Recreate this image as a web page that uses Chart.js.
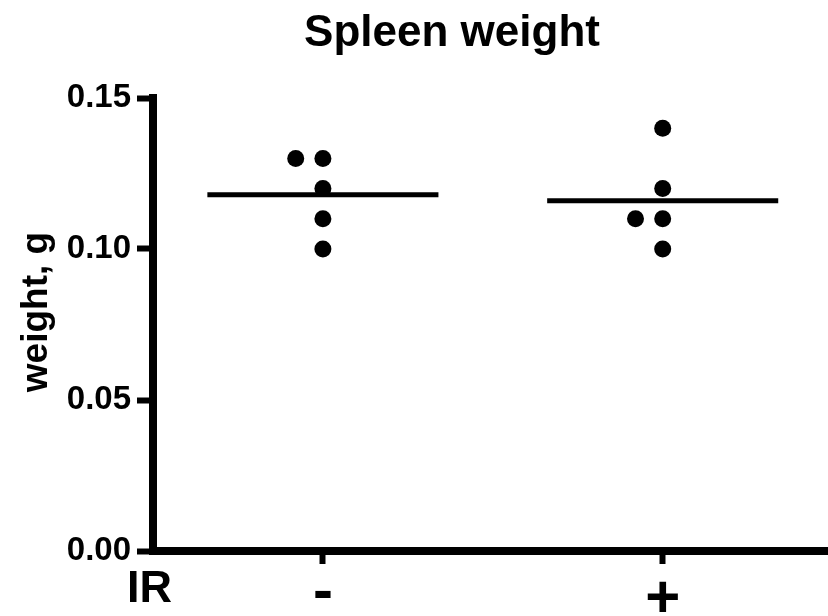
<!DOCTYPE html>
<html>
<head>
<meta charset="utf-8">
<script src="https://cdn.jsdelivr.net/npm/chart.js@4.4.0/dist/chart.umd.min.js"></script>
<style>
  html, body { margin: 0; padding: 0; background: #fff; overflow: hidden; }
  /* x axis runs off the right edge of the window */
  #wrap { width: 836px; height: 616px; }
</style>
</head>
<body>
<div id="wrap"><canvas id="chart"></canvas></div>
<script>
// spleen weights (g), one value per animal
const groups = ['-', '+'];
const irNeg = [0.13, 0.13, 0.12, 0.11, 0.10];
const irPos = [0.14, 0.12, 0.11, 0.11, 0.10];
const yTicks = [0, 0.05, 0.10, 0.15];
const chartTitle = 'Spleen weight';
const yTitle = 'weight, g';
const groupName = 'IR';

const FONT = "'Liberation Sans', Arial, Helvetica, sans-serif";
const DOT_STEP = 0.08;   // sideways shift for repeated values
const MEAN_HALF = 0.34;  // half length of the mean bar

function dotsFor(values, pos) {
  const seen = {};
  return values.map(v => {
    const k = seen[v] || 0;
    seen[v] = k + 1;
    return {x: pos - k * DOT_STEP, y: v};
  });
}
function mean(a) { return a.reduce((s, v) => s + v, 0) / a.length; }

const datasets = [];
[irNeg, irPos].forEach((vals, i) => {
  const pos = i + 1;
  datasets.push({
    type: 'scatter',
    data: dotsFor(vals, pos),
    backgroundColor: '#000',
    borderWidth: 0,
    pointRadius: 8.5,
    pointHoverRadius: 8.5
  });
  const m = mean(vals);
  datasets.push({
    type: 'line',
    data: [{x: pos - MEAN_HALF, y: m}, {x: pos + MEAN_HALF, y: m}],
    borderColor: '#000',
    borderWidth: 5,
    pointRadius: 0,
    fill: false
  });
});

// title, y axis name and the group name next to the x axis
const textMarks = {
  id: 'textMarks',
  afterDraw(chart) {
    const ctx = chart.ctx;
    ctx.save();
    ctx.fillStyle = '#000';
    ctx.textBaseline = 'alphabetic';
    ctx.textAlign = 'center';
    ctx.font = `bold 44px ${FONT}`;
    ctx.fillText(chartTitle, 452, 46);

    ctx.font = `bold 37px ${FONT}`;
    ctx.translate(47, 312);
    ctx.rotate(-Math.PI / 2);
    ctx.fillText(yTitle, 0, 0);
    ctx.restore();

    ctx.save();
    ctx.fillStyle = '#000';
    ctx.textAlign = 'left';
    ctx.textBaseline = 'alphabetic';
    ctx.font = `bold 45px ${FONT}`;
    ctx.fillText(groupName, 127, 602);
    ctx.restore();
  }
};

new Chart(document.getElementById('chart'), {
  data: {datasets},
  plugins: [textMarks],
  options: {
    responsive: true,
    maintainAspectRatio: false,
    animation: false,
    layout: {padding: {top: 98, left: 0, right: 0, bottom: 0}},
    plugins: {legend: {display: false}, tooltip: {enabled: false}},
    scales: {
      x: {
        type: 'linear',
        min: 0.5,
        max: 2.485,
        afterBuildTicks: s => { s.ticks = groups.map((_, i) => ({value: i + 1})); },
        afterFit: s => { s.height = 65; },
        border: {display: true, color: '#000', width: 8},
        grid: {drawOnChartArea: false, drawTicks: true, tickLength: 13, tickWidth: 6, tickColor: '#000'},
        ticks: {
          callback: v => groups[v - 1],
          color: '#000',
          // the minus sign sits a little higher than the plus
          font: ctx => ({family: FONT, size: 60, weight: 'bold', lineHeight: ctx.index === 0 ? '58px' : '72px'}),
          padding: 0,
          maxRotation: 0,
          autoSkip: false
        }
      },
      y: {
        min: 0,
        max: 0.15,
        afterBuildTicks: s => { s.ticks = yTicks.map(v => ({value: v})); },
        afterFit: s => { s.width = 153; },
        border: {display: true, color: '#000', width: 8},
        grid: {drawOnChartArea: false, drawTicks: true, tickLength: 16, tickWidth: 6, tickColor: '#000'},
        ticks: {
          callback: v => v.toFixed(2),
          color: '#000',
          font: {family: FONT, size: 33, weight: 'bold'},
          padding: 6
        }
      }
    }
  }
});
</script>
</body>
</html>
